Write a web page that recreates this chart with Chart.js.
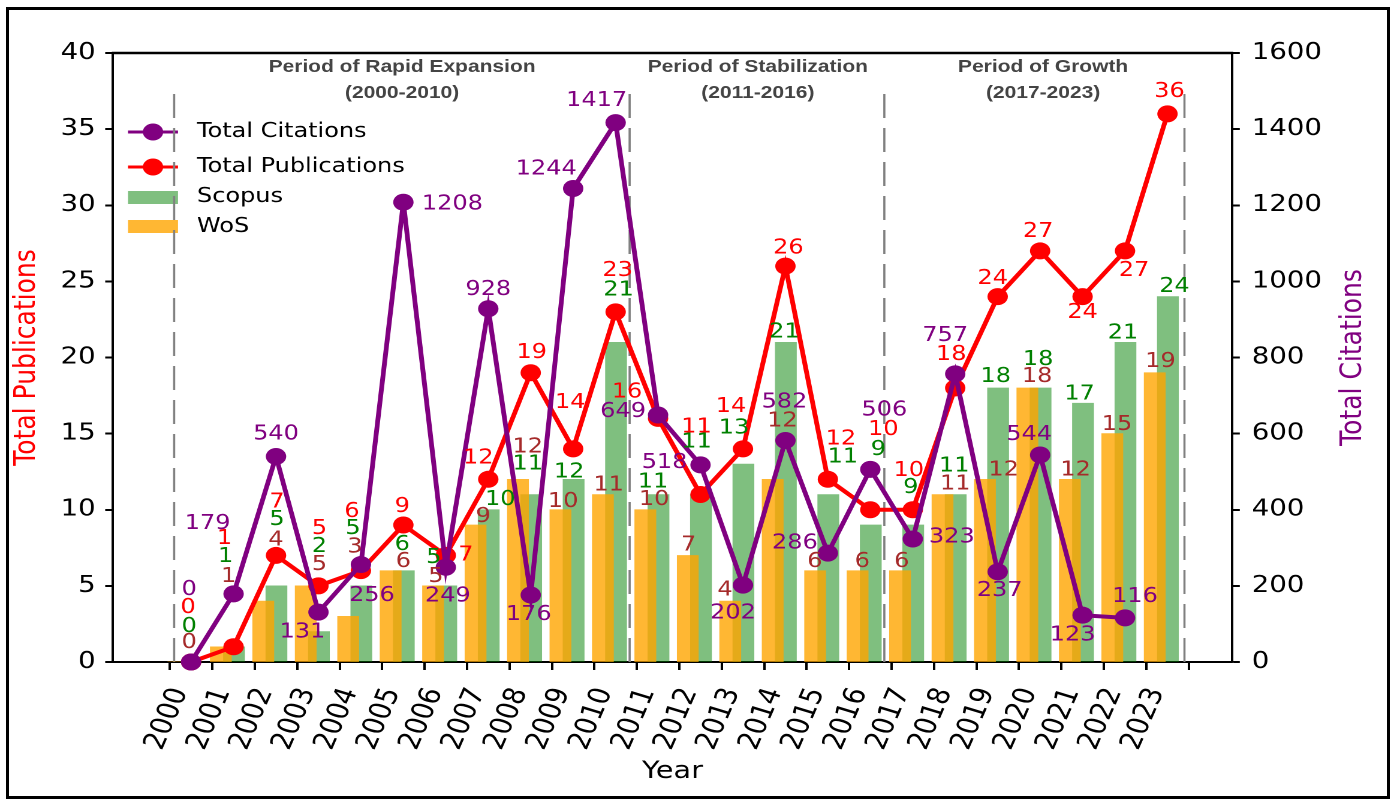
<!DOCTYPE html>
<html>
<head>
<meta charset="utf-8">
<script src="https://cdn.jsdelivr.net/npm/chart.js@4.4.1/dist/chart.umd.min.js"></script>
<style>
  html, body { margin: 0; padding: 0; background: #fff; }
  #wrap { position: absolute; left: 0; top: 0; width: 1160px; height: 800px; transform: scaleX(1.19914); transform-origin: 0 0; }
  #frame { position: absolute; left: 6px; top: 7px; width: 1378px; height: 786px; border: 3px solid #000; pointer-events: none; }
</style>
</head>
<body>
<div id="wrap"><canvas id="chart"></canvas></div>
<div id="frame"></div>
<script>
// the reference picture is stretched sideways, so the chart is drawn narrower and scaled by css
const STRETCH = 1391 / 1160;

const years = [2000, 2001, 2002, 2003, 2004, 2005, 2006, 2007, 2008, 2009, 2010, 2011,
               2012, 2013, 2014, 2015, 2016, 2017, 2018, 2019, 2020, 2021, 2022, 2023];
const totalPublications = [0, 1, 7, 5, 6, 9, 7, 12, 19, 14, 23, 16, 11, 14, 26, 12, 10, 10, 18, 24, 27, 24, 27, 36];
const totalCitations = [0, 179, 540, 131, 256, 1208, 249, 928, 176, 1244, 1417, 649, 518, 202, 582, 286, 506, 323, 757, 237, 544, 123, 116, null];
const scopus = [0, 1, 5, 2, 5, 6, 5, 10, 11, 12, 21, 11, 11, 13, 21, 11, 9, 9, 11, 18, 18, 17, 21, 24];
const wos = [0, 1, 4, 5, 3, 6, 5, 9, 12, 10, 11, 10, 7, 4, 12, 6, 6, 6, 11, 12, 18, 12, 15, 19];

const periodNames = ['Period of Rapid Expansion', 'Period of Stabilization', 'Period of Growth'];
const periodSpans = ['(2000-2010)', '(2011-2016)', '(2017-2023)'];

// layout: dashed separators and period title centres (x values)
const separatorsAt = [1999.6, 2010.33, 2016.33, 2023.4];
const periodCentres = [2004.97, 2013.35, 2020.07];

// label offsets [dx, dy] in screen pixels from (tick x, mark y)
const citeOff = [[-2,-72],[-26,-70],[0,-22],[-16,20],[11,31],[49,2],[2,29],[0,-19],[-2,20],[-27,-19],[-19,-22],[-35,-3],
                 [-36,-2],[-10,28],[-1,-38],[-33,-10],[14,-59],[39,-2],[-10,-38],[2,19],[-11,-20],[-10,20],[10,-21],[0,0]];
const pubOff = [[-3,-54],[-9,-108],[1,-53],[1,-57],[-9,-59],[-1,-18],[20,0],[-10,-21],[1,-20],[-3,-46],[2,-41],[-31,-26],
                [-4,-67],[-12,-42],[3,-18],[13,-40],[13,-80],[-4,-39],[-4,-33],[-5,-18],[-2,-19],[0,16],[9,20],[2,-22]];
const scopusOff = [[-2,-35],[-8,-90],[1,-66],[1,-85],[-8,-57],[-1,-26],[-12,-28],[12,-10],[-3,-30],[-4,-7],[3,-52],[-5,-12],
                   [-4,-52],[-9,-36],[-1,-10],[15,-37],[8,-75],[-2,-37],[-1,-28],[-2,-11],[-2,-28],[-3,-9],[-2,-9],[7,-10]];
const wosOff = [[-2,-19],[-5,-70],[0,-61],[1,-21],[-6,-69],[0,-9],[-10,-9],[-5,-8],[-3,-32],[-10,-8],[-7,-9],[-4,-10],
                [-12,-10],[-18,-11],[-3,-58],[-13,-9],[-8,-9],[-11,-9],[0,-10],[6,-9],[-3,-11],[-7,-9],[-8,-9],[-7,-11]];

const PURPLE = '#800080';
const RED = '#ff0000';
const GREEN_BAR = 'rgba(0,128,0,0.5)';
const ORANGE_BAR = 'rgba(255,165,0,0.8)';

Chart.defaults.font.family = "'DejaVu Sans', sans-serif";
Chart.defaults.color = '#000';

const labelsPlugin = {
  id: 'valueLabels',
  afterDatasetsDraw(chart) {
    const ctx = chart.ctx;
    const xs = chart.scales.x;
    ctx.save();
    ctx.font = "20px 'DejaVu Sans'";
    ctx.textAlign = 'center';
    ctx.textBaseline = 'middle';
    chart.data.datasets.forEach((ds, di) => {
      const meta = chart.getDatasetMeta(di);
      meta.data.forEach((el, i) => {
        const v = ds.data[i].y;
        if (v === null || v === undefined) return;
        const off = ds.labelOffsets[i];
        ctx.fillStyle = ds.labelColor;
        ctx.fillText(String(v), xs.getPixelForValue(years[i]) + off[0] / STRETCH, el.y + off[1]);
      });
    });
    ctx.restore();
  }
};

const decorPlugin = {
  id: 'decor',
  beforeDatasetsDraw(chart) {
    const ctx = chart.ctx;
    const xs = chart.scales.x, ys = chart.scales.y;
    const a = chart.chartArea;
    ctx.save();
    // legend (no frame)
    const hx0 = 128 / STRETCH, hx1 = 178 / STRETCH, mx = 153 / STRETCH, tx = 197 / STRETCH;
    [[PURPLE, 132], [RED, 167]].forEach(([c, y]) => {
      ctx.strokeStyle = c; ctx.lineWidth = 3;
      ctx.beginPath(); ctx.moveTo(hx0, y); ctx.lineTo(hx1, y); ctx.stroke();
      ctx.fillStyle = c;
      ctx.beginPath(); ctx.arc(mx, y, 8.5, 0, Math.PI * 2); ctx.fill();
    });
    ctx.fillStyle = GREEN_BAR; ctx.fillRect(hx0, 191, hx1 - hx0, 13);
    ctx.fillStyle = ORANGE_BAR; ctx.fillRect(hx0, 220, hx1 - hx0, 13);
    ctx.fillStyle = '#000';
    ctx.font = "20px 'DejaVu Sans'";
    ctx.textBaseline = 'middle';
    ctx.textAlign = 'left';
    ctx.fillText('Total Citations', tx, 132);
    ctx.fillText('Total Publications', tx, 167);
    ctx.fillText('Scopus', tx, 197);
    ctx.fillText('WoS', tx, 227);

    // dashed separators
    ctx.strokeStyle = '#808080';
    ctx.lineWidth = 1.8;
    ctx.setLineDash([24, 10]);
    separatorsAt.forEach(xv => {
      const px = xs.getPixelForValue(xv);
      ctx.beginPath();
      ctx.moveTo(px, ys.getPixelForValue(0));
      ctx.lineTo(px, ys.getPixelForValue(37.6));
      ctx.stroke();
    });
    ctx.setLineDash([]);

    // period titles
    ctx.fillStyle = '#444';
    ctx.font = "bold 17.5px 'Liberation Sans', Arial, sans-serif";
    ctx.textAlign = 'center';
    periodCentres.forEach((xv, k) => {
      const px = xs.getPixelForValue(xv);
      ctx.fillText(periodNames[k], px, a.top + 14);
      ctx.fillText(periodSpans[k], px, a.top + 40);
    });
    ctx.restore();
  },
  afterDraw(chart) {
    const ctx = chart.ctx;
    const a = chart.chartArea;
    ctx.save();
    // top spine
    ctx.strokeStyle = '#000';
    ctx.lineWidth = 2.5;
    ctx.beginPath(); ctx.moveTo(a.left - 1, a.top); ctx.lineTo(a.right + 1, a.top); ctx.stroke();
    // right axis title, reads bottom to top
    ctx.translate(1353 / STRETCH, (a.top + a.bottom) / 2);
    ctx.rotate(-Math.PI / 2);
    ctx.fillStyle = PURPLE;
    ctx.font = "25px 'DejaVu Sans'";
    ctx.textAlign = 'center';
    ctx.textBaseline = 'middle';
    ctx.fillText('Total Citations', 0, 0);
    ctx.restore();
  }
};

const toPoints = (vals, shift) => vals.map((v, i) => ({ x: years[i] + shift, y: v }));

new Chart(document.getElementById('chart'), {
  type: 'bar',
  data: {
    datasets: [
      {
        type: 'line', label: 'Total Citations', data: toPoints(totalCitations, 0), yAxisID: 'y1',
        borderColor: PURPLE, backgroundColor: PURPLE, borderWidth: 4, pointRadius: 8.5,
        pointBackgroundColor: PURPLE, pointBorderWidth: 0, tension: 0, clip: false, order: 0,
        labelColor: PURPLE, labelOffsets: citeOff
      },
      {
        type: 'line', label: 'Total Publications', data: toPoints(totalPublications, 0), yAxisID: 'y',
        borderColor: RED, backgroundColor: RED, borderWidth: 4, pointRadius: 8.5,
        pointBackgroundColor: RED, pointBorderWidth: 0, tension: 0, clip: false, order: 1,
        labelColor: RED, labelOffsets: pubOff
      },
      {
        label: 'WoS', data: toPoints(wos, -0.3), yAxisID: 'y', backgroundColor: ORANGE_BAR,
        barThickness: 21 / STRETCH, grouped: false, order: 2,
        labelColor: '#a52a2a', labelOffsets: wosOff
      },
      {
        label: 'Scopus', data: toPoints(scopus, 0.01), yAxisID: 'y', backgroundColor: GREEN_BAR,
        barThickness: 21 / STRETCH, grouped: false, order: 3,
        labelColor: '#008000', labelOffsets: scopusOff
      }
    ]
  },
  options: {
    responsive: true,
    maintainAspectRatio: false,
    animation: false,
    devicePixelRatio: 2,
    layout: { padding: { top: 53, left: 0, right: 0, bottom: 0 } },
    plugins: { legend: { display: false }, tooltip: { enabled: false } },
    scales: {
      x: {
        type: 'linear', min: 1998.16, max: 2024.52, offset: false,
        afterBuildTicks: s => { s.ticks = years.map(v => ({ value: v })); },
        afterFit: s => { s.height = 138; },
        ticks: {
          autoSkip: false, minRotation: 70, maxRotation: 70, padding: 14, labelOffset: -9,
          font: { size: 25 }, color: '#000', callback: v => String(v)
        },
        grid: { drawOnChartArea: false, tickLength: 8, tickWidth: 2, tickColor: '#000' },
        border: { color: '#000', width: 2 },
        title: { display: true, text: 'Year', color: '#000', font: { size: 24 }, padding: { top: 0, bottom: 14 } }
      },
      y: {
        position: 'left', min: 0, max: 40,
        afterFit: s => { s.width = 113 / STRETCH; },
        ticks: { stepSize: 5, font: { size: 23 }, color: '#000', padding: 8, callback: v => String(v) },
        grid: { drawOnChartArea: false, tickLength: 6.5, tickWidth: 2, tickColor: '#000' },
        border: { color: '#000', width: 2 },
        title: { display: true, text: 'Total Publications', color: RED, font: { size: 25 }, padding: { top: 7.5, bottom: 0 } }
      },
      y1: {
        position: 'right', min: 0, max: 1600,
        afterFit: s => { s.width = 1160 - 1232 / STRETCH; },
        ticks: { stepSize: 200, font: { size: 23 }, color: '#000', padding: 10, callback: v => String(v) },
        grid: { drawOnChartArea: false, tickLength: 6.5, tickWidth: 2, tickColor: '#000' },
        border: { color: '#000', width: 2 }
      }
    }
  },
  plugins: [decorPlugin, labelsPlugin]
});
</script>
</body>
</html>
